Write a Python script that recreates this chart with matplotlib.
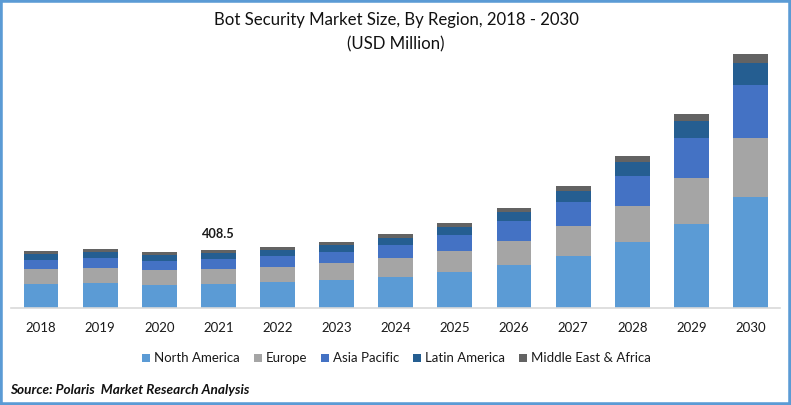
import matplotlib
matplotlib.use('Agg')
import matplotlib.pyplot as plt
from matplotlib.patches import Rectangle
import numpy as np

plt.rcParams['font.family'] = ['Lato', 'DejaVu Sans']

# Datos
years = ['2018', '2019', '2020', '2021', '2022', '2023', '2024', '2025', '2026', '2027', '2028', '2029', '2030']
north_america = [169, 176, 162, 169.5, 183, 197, 218, 253, 303, 366, 465, 591, 781]
europe = [106, 106, 106, 106, 106, 120, 134, 148, 169, 211, 253, 324, 415]
asia_pacific = [63, 70, 63, 70, 77, 77, 92, 113, 141, 169, 211, 282, 373]
latin_america = [42, 42, 42, 42, 42, 49, 49, 56, 63, 77, 99, 120, 155]
mea = [21, 21, 21, 21, 21, 21, 28, 28, 28, 35, 42, 49, 63]

series = [('North America', north_america, '#5B9BD5'),
          ('Europe', europe, '#A5A5A5'),
          ('Asia Pacific', asia_pacific, '#4472C4'),
          ('Latin America', latin_america, '#255E91'),
          ('Middle East & Africa', mea, '#636363')]

W, H = 791, 405
fig = plt.figure(figsize=(W / 100, H / 100), dpi=100)
ax = fig.add_axes([11.5 / W, (H - 308) / H, 768.5 / W, 268 / H])

x = np.arange(len(years))
bottom = np.zeros(len(years))
handles = []
for name, vals, col in series:
    b = ax.bar(x, vals, 0.59, bottom=bottom, color=col, label=name)
    handles.append(b)
    bottom += np.array(vals)

ax.set_xlim(-0.5, len(years) - 0.5)
ax.set_ylim(0, 1887)
ax.set_yticks([])
ax.set_xticks(x)
ax.set_xticklabels(years, fontsize=9.5, color='#1a1a1a')
ax.tick_params(axis='x', length=0, pad=10)
for s in ['top', 'left', 'right']:
    ax.spines[s].set_visible(False)
ax.spines['bottom'].set_color('#D9D9D9')
ax.spines['bottom'].set_linewidth(1.2)

# Etiqueta del 2021
ax.text(3, bottom[3] + 70, '408.5', ha='center', va='bottom', fontsize=9.2, fontweight='bold', color='#1a1a1a')

# Titulo
fig.text(396 / W, 1 - 20 / H, 'Bot Security Market Size, By Region, 2018 - 2030', ha='center', va='center',
         fontsize=12.05, color='#111111')
fig.text(396 / W, 1 - 44 / H, '(USD Million)', ha='center', va='center', fontsize=12.05, color='#111111')

fig.legend(handles=handles, loc='center', bbox_to_anchor=(396.5 / W, 1 - 358.5 / H), ncol=5, frameon=False,
           fontsize=9.5, handlelength=0.6, handleheight=0.6, handletextpad=0.3, columnspacing=1.05,
           labelcolor='#1a1a1a')

fig.text(10 / W, 1 - 390 / H, 'Source: Polaris  Market Research Analysis', ha='left', va='center',
         fontsize=9.8, fontweight='bold', fontstyle='italic', color='#111111')

# Marco azul
fig.add_artist(Rectangle((0, 0), 1, 1, transform=fig.transFigure, fill=False, edgecolor='#5B9BD5', linewidth=4))

plt.savefig('out.png', dpi=100)
